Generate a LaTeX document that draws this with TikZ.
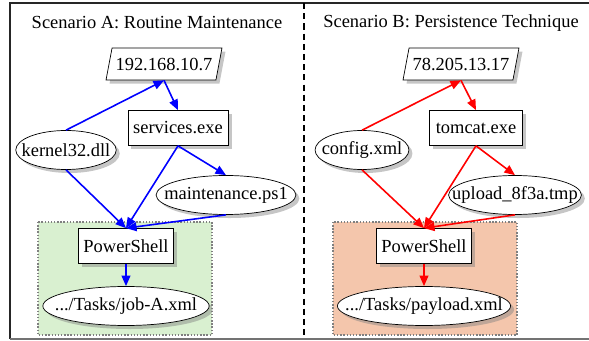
\documentclass[tikz,border=0pt]{standalone}
\usepackage{fontspec}
\setmainfont{Liberation Serif}
\usetikzlibrary{shapes.geometric, shadows, arrows.meta}
\definecolor{boxgreen}{RGB}{217,240,208}
\definecolor{boxsalmon}{RGB}{244,198,172}

\begin{document}
\begin{tikzpicture}[
    x=0.02cm, y=-0.02cm,
    font=\fontsize{10.5}{12}\selectfont,
    nodeshadow/.style={drop shadow={opacity=0.45, shadow xshift=2pt, shadow yshift=-2pt}},
    proc/.style={rectangle, draw, fill=white, minimum width=1.85cm, minimum height=0.7cm, inner xsep=3pt, nodeshadow},
    host/.style={trapezium, trapezium left angle=76, trapezium right angle=104, trapezium stretches=true, draw, fill=white, minimum height=0.64cm, inner xsep=2pt, nodeshadow},
    oval/.style={ellipse, draw, fill=white, minimum height=0.78cm, inner ysep=1pt, inner xsep=#1, nodeshadow},
    oval/.default=-5pt,
    group/.style={draw=gray, densely dotted, line width=0.8pt},
    flowA/.style={draw=blue, line width=0.9pt, -{Triangle[length=6pt, width=5pt]}},
    flowB/.style={draw=red, line width=0.9pt, -{Triangle[length=6pt, width=5pt]}}
]
\useasboundingbox (0,0) rectangle (589,341);

\draw[line width=1.3pt, black!85] (600,3) -- (10,3) -- (10,339);
\draw[line width=1.3pt, black!55] (10,339) -- (600,339);
\draw[line width=1.3pt, dash pattern=on 3.5pt off 2.3pt] (304,3) -- (304,339);

\node (titleA) at (157,23) {Scenario A: Routine Maintenance};
\node (titleB) at (451,23) {Scenario B: Persistence Technique};

\draw[group, fill=boxgreen] (38,222) rectangle (212,335);
\draw[group, fill=boxsalmon] (333,222) rectangle (517,335);

\node[host] (ipA) at (164,64) {192.168.10.7};
\node[proc] (svc) at (178,128) {services.exe};
\node[oval=-5pt] (kern) at (66,150) {kernel32.dll};
\node[oval=-7pt] (maint) at (226,195) {maintenance.ps1};
\node[proc] (psA) at (126,246) {PowerShell};
\node[oval=-7pt] (jobA) at (126,306) {.../Tasks/job-A.xml};

\node[host] (ipB) at (461,64) {78.205.13.17};
\node[proc] (tom) at (476,128) {tomcat.exe};
\node[oval=-4pt] (conf) at (362,150) {config.xml};
\node[oval=-9pt] (upl) at (515,195) {upload\_8f3a.tmp};
\node[proc] (psB) at (424,246) {PowerShell};
\node[oval=-10pt] (payl) at (424,306) {.../Tasks/payload.xml};

\draw[flowA] (kern.north) -- (ipA.south);
\draw[flowA] (ipA.south) -- (svc.north);
\draw[flowA] (kern.south) -- (psA.north);
\draw[flowA] (svc.south) -- (psA.north);
\draw[flowA] (svc.south) -- (maint.north);
\draw[flowA] (maint.south) -- (psA.north);
\draw[flowA] (psA.south) -- (jobA.north);

\draw[flowB] (conf.north) -- (ipB.south);
\draw[flowB] (ipB.south) -- (tom.north);
\draw[flowB] (conf.south) -- (psB.north);
\draw[flowB] (tom.south) -- (psB.north);
\draw[flowB] (tom.south) -- (upl.north);
\draw[flowB] (upl.south) -- (psB.north);
\draw[flowB] (psB.south) -- (payl.north);

\end{tikzpicture}
\end{document}
